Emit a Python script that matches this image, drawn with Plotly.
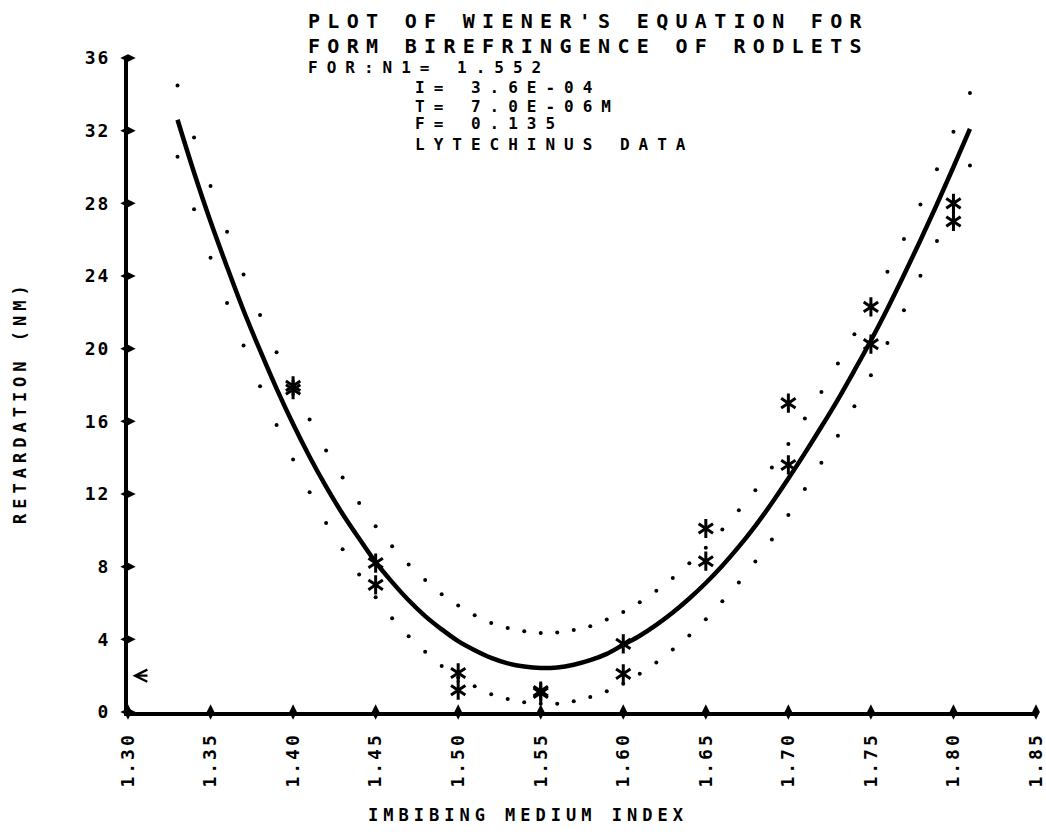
import plotly.graph_objects as go

# ---------------- data ----------------
index_grid = [1.33, 1.34, 1.35, 1.36, 1.37, 1.38, 1.39, 1.40, 1.41, 1.42,
              1.43, 1.44, 1.45, 1.46, 1.47, 1.48, 1.49, 1.50, 1.51, 1.52,
              1.53, 1.54, 1.55, 1.56, 1.57, 1.58, 1.59, 1.60, 1.61, 1.62,
              1.63, 1.64, 1.65, 1.66, 1.67, 1.68, 1.69, 1.70, 1.71, 1.72,
              1.73, 1.74, 1.75, 1.76, 1.77, 1.78, 1.79, 1.80, 1.81]

wiener_curve = [32.6, 29.7, 27.0, 24.5, 22.1, 19.9, 17.8, 15.85, 14.05, 12.4,
                10.9, 9.55, 8.25, 7.15, 6.15, 5.28, 4.55, 3.9, 3.4, 2.98,
                2.68, 2.5, 2.42, 2.45, 2.6, 2.85, 3.2, 3.7, 4.2, 4.8,
                5.48, 6.25, 7.1, 8.05, 9.1, 10.25, 11.5, 12.85, 14.25, 15.7,
                17.2, 18.8, 20.45, 22.2, 24.05, 25.97, 27.95, 30.0, 32.1]

upper_bound = [34.49, 31.63, 28.95, 26.43, 24.08, 21.86, 19.80, 17.9, 16.1, 14.4,
               12.91, 11.50, 10.23, 9.13, 8.12, 7.26, 6.48, 5.86, 5.33, 4.90,
               4.63, 4.45, 4.35, 4.38, 4.52, 4.72, 5.09, 5.51, 6.04, 6.67,
               7.37, 8.19, 9.04, 10.05, 11.10, 12.21, 13.46, 14.75, 16.16, 17.61,
               19.19, 20.79, 22.4, 24.24, 26.03, 27.93, 29.87, 31.94, 34.07]

lower_bound = [30.56, 27.68, 25.01, 22.52, 20.17, 17.93, 15.8, 13.9, 12.1, 10.4,
               8.96, 7.57, 6.32, 5.16, 4.17, 3.31, 2.53, 1.9, 1.42, 0.98,
               0.72, 0.53, 0.45, 0.46, 0.59, 0.83, 1.14, 1.56, 2.11, 2.72,
               3.44, 4.21, 5.11, 6.10, 7.13, 8.29, 9.50, 10.84, 12.27, 13.72,
               15.21, 16.83, 18.53, 20.31, 22.11, 24.01, 25.93, 27.95, 30.08]

obs_index = [1.40, 1.40, 1.45, 1.45, 1.50, 1.50, 1.55, 1.55, 1.60, 1.60,
             1.65, 1.65, 1.70, 1.70, 1.75, 1.75, 1.80, 1.80]
obs_retardation = [17.95, 17.75, 8.2, 7.0, 2.15, 1.2, 1.15, 1.05, 3.75, 2.1,
                   10.1, 8.3, 17.0, 13.6, 22.3, 20.25, 28.0, 27.0]

x_ticks = [1.30, 1.35, 1.40, 1.45, 1.50, 1.55, 1.60, 1.65, 1.70, 1.75, 1.80, 1.85]
x_tick_labels = ["1.30", "1.35", "1.40", "1.45", "1.50", "1.55",
                 "1.60", "1.65", "1.70", "1.75", "1.80", "1.85"]
y_ticks = [0, 4, 8, 12, 16, 20, 24, 28, 32, 36]
y_tick_labels = ["0", "4", "8", "12", "16", "20", "24", "28", "32", "36"]

arrow_level = [2.0]

title_lines = ["PLOT OF WIENER'S EQUATION FOR", "FORM BIREFRINGENCE OF RODLETS"]
param_lines = ["FOR:N1= 1.552", "I= 3.6E-04", "T= 7.0E-06M", "F= 0.135", "LYTECHINUS DATA"]

# ---------------- figure ----------------
FONT = "DejaVu Sans Mono"
W, H = 1046, 838
ML, MT = 128, 58
PW, PH = 908, 654
MR, MB = W - ML - PW, H - MT - PH


def px_to_paper(px, py):
    """convert a page-pixel position to paper coordinates"""
    return (px - ML) / PW, (MT + PH - py) / PH


def spaced(text, sp):
    return f"<span style='letter-spacing:{sp}px'>{text}</span>"


fig = go.Figure()

for ys in (upper_bound, lower_bound):
    fig.add_trace(go.Scatter(x=index_grid, y=ys, mode="markers",
                             marker=dict(size=4, color="black", symbol="circle"),
                             hoverinfo="skip", showlegend=False))

fig.add_trace(go.Scatter(x=index_grid, y=wiener_curve, mode="lines",
                         line=dict(color="black", width=4.5, shape="spline"),
                         showlegend=False))

for sym in ("y-up-open", "y-down-open"):
    fig.add_trace(go.Scatter(x=obs_index, y=obs_retardation, mode="markers",
                             marker=dict(symbol=sym, size=12, color="black",
                                         line=dict(color="black", width=3)),
                             showlegend=False))

# tick bumps on the axes
fig.add_trace(go.Scatter(x=x_ticks, y=[0] * len(x_ticks), mode="markers",
                         marker=dict(symbol="diamond-tall", size=11, color="black"),
                         cliponaxis=False, showlegend=False, hoverinfo="skip"))
fig.add_trace(go.Scatter(x=[x_ticks[0]] * len(y_ticks), y=y_ticks, mode="markers",
                         marker=dict(symbol="diamond-wide", size=11, color="black"),
                         cliponaxis=False, showlegend=False, hoverinfo="skip"))

fig.update_xaxes(range=[x_ticks[0], x_ticks[-1]], tickvals=x_ticks,
                 ticktext=[spaced(t, 3) for t in x_tick_labels],
                 tickangle=-90, showline=True, linewidth=4, linecolor="black",
                 showgrid=False, zeroline=False, ticks="", automargin=False,
                 ticklabelstandoff=9, ticklabeloverflow="allow",
                 tickfont=dict(family=FONT, size=18, color="black", weight="bold"))
fig.update_yaxes(range=[y_ticks[0], y_ticks[-1]], tickvals=y_ticks,
                 ticktext=[spaced(t, 2) for t in y_tick_labels],
                 showline=True, linewidth=4, linecolor="black", automargin=False,
                 showgrid=False, zeroline=False, ticks="",
                 ticklabelstandoff=10,
                 tickfont=dict(family=FONT, size=18, color="black", weight="bold"))

annotations = []
# title
for text, py in zip(title_lines, [21, 46]):
    x, y = px_to_paper(306, py)
    annotations.append(dict(x=x, y=y, xref="paper", yref="paper", xanchor="left",
                            yanchor="middle", showarrow=False,
                            text=spaced(text, 7.3),
                            font=dict(family=FONT, size=20, color="black", weight="bold")))
# parameters
param_pos = [(306, 67), (413, 87), (413, 106), (413, 124), (413, 144)]
for text, (ppx, ppy) in zip(param_lines, param_pos):
    x, y = px_to_paper(ppx, ppy)
    annotations.append(dict(x=x, y=y, xref="paper", yref="paper", xanchor="left",
                            yanchor="middle", showarrow=False,
                            text=spaced(text.replace(" ", "\u00a0"), 9),
                            font=dict(family=FONT, size=16, color="black", weight="bold")))
# axis titles
x, y = px_to_paper(528, 815)
annotations.append(dict(x=x, y=y, xref="paper", yref="paper", xanchor="center",
                        yanchor="middle", showarrow=False,
                        text=spaced("IMBIBING MEDIUM INDEX", 5),
                        font=dict(family=FONT, size=17, color="black", weight="bold")))
x, y = px_to_paper(20, 402)
annotations.append(dict(x=x, y=y, xref="paper", yref="paper", xanchor="center",
                        yanchor="middle", showarrow=False, textangle=-90,
                        text=spaced("RETARDATION (NM)", 5),
                        font=dict(family=FONT, size=17, color="black", weight="bold")))
# arrow near the y axis
annotations.append(dict(x=1.3027, y=arrow_level[0], ax=1.3127, ay=arrow_level[0],
                        xref="x", yref="y", axref="x", ayref="y", text="",
                        showarrow=True, arrowhead=5, arrowsize=1.0, arrowwidth=2.4,
                        arrowcolor="black", standoff=0, startstandoff=0))

fig.update_layout(width=W, height=H, margin=dict(l=ML, r=MR, t=MT, b=MB),
                  paper_bgcolor="white", plot_bgcolor="white",
                  annotations=annotations, showlegend=False)

fig.write_html("out.html", config={"displayModeBar": False},
               post_script="document.body.style.margin='0';"
                           "document.body.style.overflow='hidden';")
